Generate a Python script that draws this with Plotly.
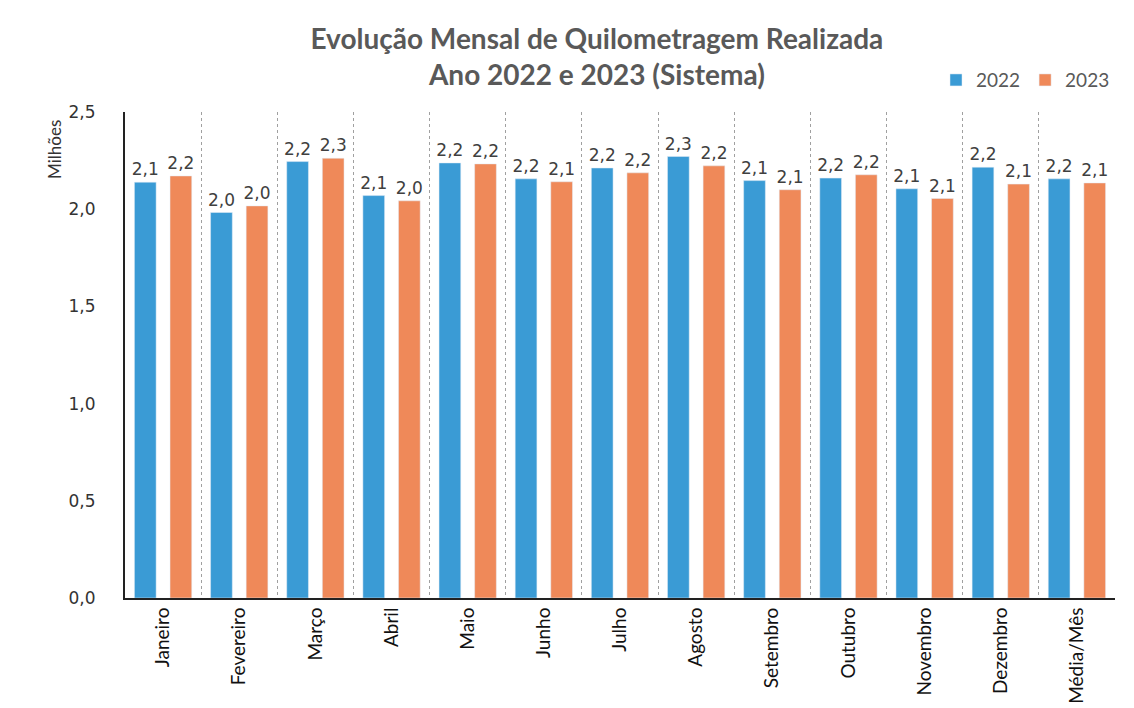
import plotly.graph_objects as go

categories = ["Janeiro", "Fevereiro", "Março", "Abril", "Maio", "Junho", "Julho",
              "Agosto", "Setembro", "Outubro", "Novembro", "Dezembro", "Média/Mês"]
values_2022 = [2.139, 1.983, 2.245, 2.070, 2.238, 2.156, 2.212,
               2.271, 2.147, 2.160, 2.105, 2.216, 2.156]
values_2023 = [2.171, 2.017, 2.262, 2.043, 2.233, 2.141, 2.187,
               2.223, 2.100, 2.177, 2.055, 2.129, 2.135]
y_ticks = [0.0, 0.5, 1.0, 1.5, 2.0, 2.5]

FONT = "Lato, 'Open Sans', sans-serif"
NUMFONT = "'DejaVu Sans', sans-serif"
BLUE = "#3a9bd5"
ORANGE = "#ef8959"

fig = go.Figure()
for name, vals, col in (("2022", values_2022, BLUE), ("2023", values_2023, ORANGE)):
    fig.add_trace(go.Bar(x=categories, y=vals, name=name, marker_color=col,
                         texttemplate="%{y:.1f}", textposition="outside",
                         constraintext="none",
                         textfont=dict(size=17, color="#404040", family=NUMFONT),
                         cliponaxis=False))

fig.update_layout(
    width=1126, height=700,
    paper_bgcolor="white", plot_bgcolor="white",
    separators=",.",
    barmode="group", bargap=0.065, bargroupgap=0.39,
    margin=dict(l=117, r=19, t=104, b=110),
    font=dict(family=FONT, color="#404040"),
    title=dict(text="<b>Evolução Mensal de Quilometragem Realizada<br>Ano 2022 e 2023 (Sistema)</b>",
               x=0.523, xanchor="center", y=0.942, yanchor="middle",
               font=dict(size=28, color="#595959", family=FONT)),
    legend=dict(orientation="h", x=1.0, xanchor="right", y=0.897, yanchor="middle",
                yref="container",
                font=dict(size=19, color="#595959", family=FONT),
                itemwidth=30, traceorder="normal"),
    showlegend=True,
)
fig.update_xaxes(type="category", tickson="boundaries", showgrid=True,
                 gridcolor="#a0a0a0", griddash="dot", gridwidth=1,
                 ticks="", tickangle=-90, automargin=False,
                 tickfont=dict(size=19, color="#111111", family=FONT),
                 showline=True, linecolor="#222222", linewidth=2)
fig.update_yaxes(range=[0, 2.5], tickvals=y_ticks, tickformat=".1f",
                 showgrid=False, zeroline=False, automargin=False,
                 tickfont=dict(size=17, color="#333333", family=NUMFONT),
                 showline=True, linecolor="#222222", linewidth=2,
                 ticks="", ticklabelstandoff=24)
fig.add_annotation(text="Milhões", xref="paper", yref="paper", x=-0.0707, y=0.922,
                   textangle=-90, showarrow=False, xanchor="center", yanchor="middle",
                   font=dict(size=17, color="#333333", family=FONT))

fig.write_html("out.html")
